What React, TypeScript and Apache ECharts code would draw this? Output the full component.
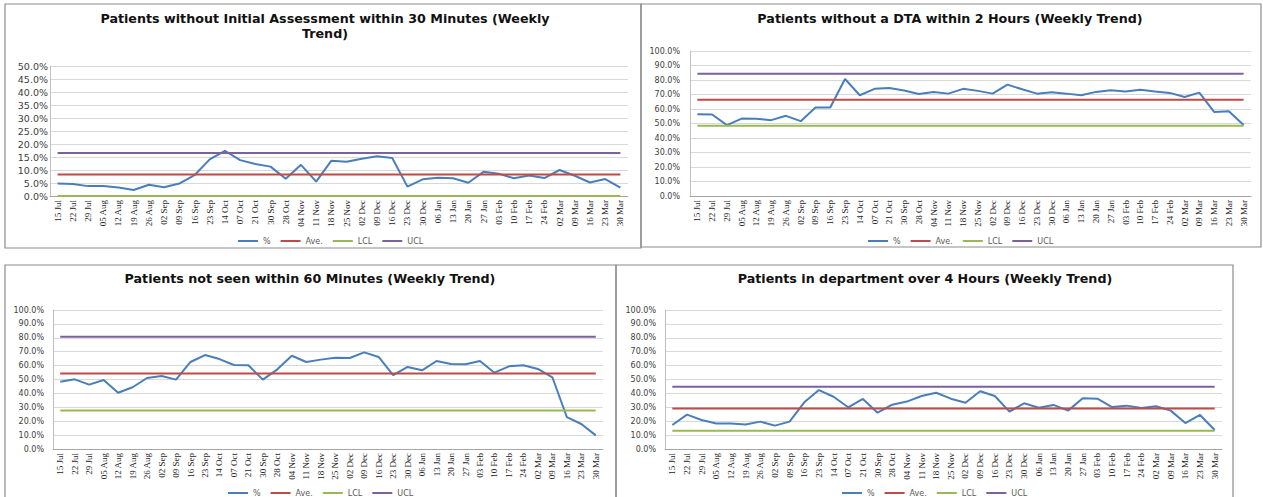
import React, { useEffect, useRef } from "react";
import * as echarts from "echarts";

const categories = [
  "15 Jul", "22 Jul", "29 Jul", "05 Aug", "12 Aug", "19 Aug", "26 Aug", "02 Sep", "09 Sep", "16 Sep",
  "23 Sep", "14 Oct", "07 Oct", "21 Oct", "30 Sep", "28 Oct", "04 Nov", "11 Nov", "18 Nov", "25 Nov",
  "02 Dec", "09 Dec", "16 Dec", "23 Dec", "30 Dec", "06 Jan", "13 Jan", "20 Jan", "27 Jan", "03 Feb",
  "10 Feb", "17 Feb", "24 Feb", "02 Mar", "09 Mar", "16 Mar", "23 Mar", "30 Mar",
];

const noAssessment30 = [4.8, 4.6, 3.8, 3.8, 3.3, 2.3, 4.3, 3.4, 4.8, 8.0, 14.1, 17.4, 13.8, 12.3, 11.3, 6.6, 12.0, 5.5, 13.6, 13.2, 14.3, 15.3, 14.6, 3.6, 6.4, 7.0, 6.8, 5.1, 9.3, 8.6, 6.8, 7.9, 6.9, 10.0, 7.8, 5.2, 6.5, 3.2];
const noAssessment30Limits = { ave: 8.3, lcl: 0.0, ucl: 16.5 };

const noDta2h = [56.4, 56.2, 48.9, 53.4, 53.2, 52.3, 55.3, 51.6, 61.0, 61.0, 80.7, 69.5, 73.9, 74.5, 72.7, 70.4, 71.8, 70.6, 73.9, 72.5, 70.6, 76.8, 73.6, 70.6, 71.6, 70.6, 69.5, 71.8, 72.9, 72.0, 73.2, 72.0, 71.1, 68.3, 71.3, 58.0, 58.5, 48.9];
const noDta2hLimits = { ave: 66.3, lcl: 48.4, ucl: 84.3 };

const notSeen60 = [48.4, 50.1, 46.3, 49.6, 40.5, 44.4, 51.1, 52.5, 49.9, 62.6, 67.6, 64.7, 60.4, 60.2, 49.9, 57.3, 67.1, 62.6, 64.3, 65.7, 65.5, 69.5, 66.2, 53.2, 59.0, 56.6, 63.3, 61.2, 60.9, 63.3, 54.9, 59.5, 60.2, 57.6, 51.6, 23.0, 18.0, 9.8];
const notSeen60Limits = { ave: 54.3, lcl: 27.7, ucl: 80.8 };

const over4h = [17.3, 24.7, 20.9, 18.3, 18.3, 17.7, 19.7, 16.8, 19.7, 33.6, 42.4, 37.6, 30.0, 36.0, 26.1, 31.9, 34.1, 38.1, 40.5, 36.2, 33.3, 41.5, 38.1, 26.9, 32.9, 29.7, 31.7, 27.6, 36.5, 36.2, 30.2, 31.2, 29.5, 30.7, 27.6, 18.7, 24.5, 13.7];
const over4hLimits = { ave: 29.2, lcl: 13.2, ucl: 44.7 };

const legendNames = ["%", "Ave.", "LCL", "UCL"];
const colors = ["#4a7ebb", "#be4b48", "#98b954", "#7d60a0"];

const panels = [
  {
    title: "Patients without Initial Assessment within 30 Minutes (Weekly\nTrend)",
    titleX: 325, titleY: 25.5,
    box: { x: 5, y: 4, w: 636, h: 244 },
    grid: { left: 50, top: 66, width: 578, height: 130 },
    yMax: 50, yInterval: 5, yFont: 9.5, yMargin: 2,
    values: noAssessment30, limits: noAssessment30Limits,
    legendLeft: 233, legendTop: 232,
  },
  {
    title: "Patients without a DTA within 2 Hours (Weekly Trend)",
    titleX: 950, titleY: 18,
    box: { x: 641, y: 4, w: 620, h: 243 },
    grid: { left: 690, top: 51, width: 561, height: 145 },
    yMax: 100, yInterval: 10, yFont: 8, yMargin: 10,
    values: noDta2h, limits: noDta2hLimits,
    legendLeft: 863, legendTop: 232,
  },
  {
    title: "Patients not seen within 60 Minutes (Weekly Trend)",
    titleX: 310, titleY: 278,
    box: { x: 5, y: 265, w: 611, h: 240 },
    grid: { left: 53, top: 310, width: 550, height: 139 },
    yMax: 100, yInterval: 10, yFont: 8, yMargin: 9,
    values: notSeen60, limits: notSeen60Limits,
    legendLeft: 223, legendTop: 484,
  },
  {
    title: "Patients in department over 4 Hours (Weekly Trend)",
    titleX: 925, titleY: 278,
    box: { x: 616, y: 265, w: 617, h: 240 },
    grid: { left: 665, top: 310, width: 557, height: 139 },
    yMax: 100, yInterval: 10, yFont: 8, yMargin: 9,
    values: over4h, limits: over4hLimits,
    legendLeft: 837, legendTop: 484,
  },
];

export default function App() {
  const ref = useRef<HTMLDivElement>(null);

  useEffect(() => {
    if (!ref.current) return;
    const chart = echarts.init(ref.current, null, { renderer: "svg" });

    const grids: any[] = [];
    const xAxes: any[] = [];
    const yAxes: any[] = [];
    const series: any[] = [];
    const legends: any[] = [];
    const graphics: any[] = [];

    panels.forEach((p, i) => {
      graphics.push({
        type: "rect",
        shape: { x: p.box.x, y: p.box.y, width: p.box.w, height: p.box.h },
        style: { fill: "none", stroke: "#8c8c8c", lineWidth: 1.2 },
        silent: true,
      });
      graphics.push({
        type: "text",
        x: p.titleX,
        y: p.titleY,
        style: {
          text: p.title,
          font: 'bold 12.7px "DejaVu Sans"',
          fill: "#111",
          textAlign: "center",
          textVerticalAlign: "middle",
          lineHeight: 15,
        },
        silent: true,
      });
      grids.push({ ...p.grid, containLabel: false });
      xAxes.push({
        type: "category",
        gridIndex: i,
        data: categories,
        boundaryGap: true,
        axisLine: { show: true, lineStyle: { color: "#a6a6a6", width: 1 } },
        axisTick: { show: false },
        axisLabel: {
          interval: 0,
          rotate: 90,
          margin: 4,
          fontFamily: "Liberation Serif",
          fontSize: 9,
          color: "#222",
        },
      });
      yAxes.push({
        type: "value",
        gridIndex: i,
        min: 0,
        max: p.yMax,
        interval: p.yInterval,
        axisLine: { show: true, lineStyle: { color: "#bfbfbf", width: 1 } },
        axisTick: { show: false },
        splitLine: { show: true, lineStyle: { color: "#d9d9d9", width: 1.2 } },
        axisLabel: {
          margin: p.yMargin,
          fontFamily: "DejaVu Sans",
          fontSize: p.yFont,
          color: "#404040",
          formatter: (v: number) => v.toFixed(1) + "%",
        },
      });
      const lines = [
        p.values,
        categories.map(() => p.limits.ave),
        categories.map(() => p.limits.lcl),
        categories.map(() => p.limits.ucl),
      ];
      lines.forEach((d, k) => {
        series.push({
          type: "line",
          name: legendNames[k],
          xAxisIndex: i,
          yAxisIndex: i,
          data: d,
          showSymbol: false,
          symbol: "none",
          color: colors[k],
          lineStyle: { color: colors[k], width: 2 },
          z: 2 + k,
        });
      });
      legends.push({
        data: legendNames,
        left: p.legendLeft,
        top: p.legendTop,
        icon: "rect",
        itemWidth: 20,
        itemHeight: 2,
        itemGap: 10,
        textStyle: { fontFamily: "DejaVu Sans", fontSize: 8, color: "#595959" },
        selectedMode: false,
      });
    });

    chart.setOption({
      animation: false,
      backgroundColor: "#ffffff",
      color: colors,
      grid: grids,
      xAxis: xAxes,
      yAxis: yAxes,
      series,
      legend: legends,
      graphic: graphics,
    });

    return () => chart.dispose();
  }, []);

  return (
    <div
      ref={ref}
      style={{ position: "absolute", left: 0, top: 0, width: 1263, height: 497, background: "#fff" }}
    />
  );
}
